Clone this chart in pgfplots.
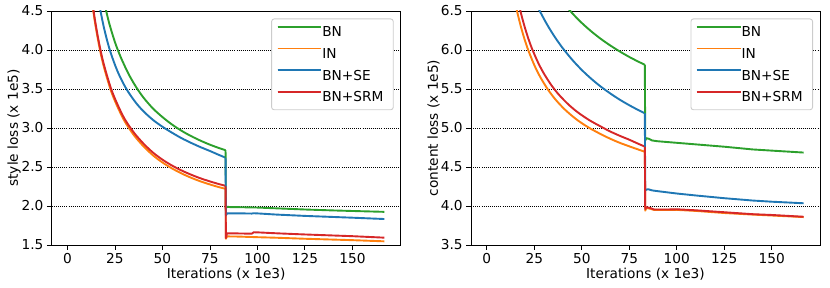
\documentclass[border=0pt]{standalone}
\usepackage{fontspec}
\setmainfont{DejaVu Sans}
\usepackage{pgfplots}
\pgfplotsset{compat=1.18}
\definecolor{cgreen}{HTML}{2CA02C}
\definecolor{corange}{HTML}{FF7F0E}
\definecolor{cblue}{HTML}{1F77B4}
\definecolor{cred}{HTML}{D62728}
\pgfplotsset{
 myaxis/.style={
  scale only axis, width=349pt, height=234pt,
  xmin=-8.3, xmax=175.4,
  xtick={0,25,50,75,100,125,150},
  tick align=outside, major tick length=4.8pt,
  xtick pos=bottom, ytick pos=left,
  every tick/.style={black, line width=0.9pt},
  axis line style={line width=0.9pt},
  ymajorgrids, major grid style={black, line width=0.8pt, dash pattern=on 0.8pt off 1.3pt},
  font=\fontsize{13.7pt}{16pt}\selectfont,
  /pgf/number format/assume math mode=true,
  yticklabel style={/pgf/number format/fixed, /pgf/number format/fixed zerofill, /pgf/number format/precision=1},
  every axis x label/.style={at={(axis description cs:0.5,0)}, yshift=-33.3pt, anchor=base},
  every axis y label/.style={at={(axis description cs:0,0.5)}, xshift=-37.5pt, rotate=90, anchor=center},
  legend style={at={(axis description cs:1,1)}, anchor=north east, xshift=-7pt, yshift=-7.5pt,
    draw=black!20, rounded corners=2.5pt, line width=0.9pt, fill=white,
    inner xsep=5pt, inner ysep=2pt, row sep=0pt, column sep=0pt,
    nodes={inner sep=0pt, text height=15.85pt, text depth=5.85pt, text width=66pt}},
  legend cell align=left,
  legend image code/.code={\draw[##1] (0pt,5pt) -- (32pt,5pt); \path (0pt,5pt) -- (43.7pt,5pt);},
  every axis plot/.append style={line width=1.9pt, line join=round},
 }
}
\begin{document}
\begin{tikzpicture}
\useasboundingbox (-51.7pt,-43pt) rectangle (778.3pt,245pt);
\begin{axis}[myaxis, at={(0pt,0pt)}, anchor=south west,
  ymin=1.5, ymax=4.5, ytick={1.5,2,2.5,3,3.5,4,4.5},
  xlabel={Iterations (x 1e3)}, ylabel={style loss (x 1e5)}]
% BN
\addplot[cgreen, smooth] coordinates {(16,5.04) (18,4.76) (20,4.54) (22,4.34) (25,4.10) (28,3.91) (32,3.70) (36,3.53) (40,3.39) (45,3.25) (50,3.14) (55,3.045) (60,2.965) (65,2.897) (70,2.838) (75,2.786) (80,2.741) (83.2,2.715)};
\addlegendentry{BN}
% IN
\addplot[corange, smooth] coordinates {(10,5.29) (12,4.80) (14,4.43) (16,4.14) (18,3.90) (20,3.71) (23,3.47) (26,3.29) (30,3.09) (35,2.907) (40,2.766) (45,2.65) (50,2.558) (55,2.482) (60,2.418) (65,2.363) (70,2.316) (75,2.276) (80,2.24) (83.2,2.22)};
\addlegendentry{IN}
% BN+SE
\addplot[cblue, smooth] coordinates {(13,5.27) (15,4.864) (17,4.553) (19,4.308) (21,4.11) (23,3.946) (26,3.747) (29,3.59) (32,3.462) (36,3.324) (40,3.214) (45,3.104) (50,3.016) (55,2.94) (60,2.87) (65,2.81) (70,2.755) (75,2.705) (80,2.652) (83.2,2.62)};
\addlegendentry{BN+SE}
% BN+SRM
\addplot[cred, smooth] coordinates {(10,5.32) (12,4.83) (14,4.46) (16,4.17) (18,3.93) (20,3.74) (23,3.50) (26,3.32) (30,3.12) (35,2.94) (40,2.80) (45,2.685) (50,2.594) (55,2.519) (60,2.456) (65,2.402) (70,2.355) (75,2.315) (80,2.279) (83.2,2.259)};
\addlegendentry{BN+SRM}
% after the drop
\addplot[cgreen, forget plot] coordinates {(83.2,2.715) (83.4,1.97) (84,1.99) (86,1.985) (90,1.985) (100,1.98) (110,1.97) (125,1.955) (140,1.943) (150,1.936) (166.8,1.925)};
\addplot[corange, forget plot] coordinates {(83.2,2.22) (83.4,1.58) (84,1.61) (90,1.608) (100,1.60) (110,1.593) (125,1.58) (150,1.562) (166.8,1.547)};
\addplot[cblue, forget plot] coordinates {(83.2,2.62) (83.4,1.88) (84,1.905) (90,1.906) (97,1.903) (98,1.907) (100,1.905) (110,1.89) (125,1.873) (150,1.85) (166.8,1.833)};
\addplot[cred, forget plot] coordinates {(83.2,2.259) (83.4,1.59) (84,1.65) (90,1.648) (97,1.645) (98,1.663) (100,1.662) (110,1.65) (125,1.635) (150,1.613) (166.8,1.594)};
\end{axis}
\begin{axis}[myaxis, at={(419.3pt,0pt)}, anchor=south west,
  ymin=3.5, ymax=6.5, ytick={3.5,4,4.5,5,5.5,6,6.5},
  xlabel={Iterations (x 1e3)}, ylabel={content loss (x 1e5)}]
\addplot[cgreen, smooth] coordinates {(35,6.775) (40,6.612) (45,6.471) (50,6.347) (55,6.239) (60,6.143) (65,6.058) (70,5.981) (75,5.911) (80,5.848) (83.2,5.811)};
\addlegendentry{BN}
\addplot[corange, smooth] coordinates {(10,7.37) (12,7.01) (14,6.727) (16,6.491) (18,6.295) (20,6.129) (22,5.987) (25,5.808) (28,5.66) (32,5.50) (36,5.37) (41,5.239) (47,5.114) (53,5.015) (59,4.934) (65,4.862) (70,4.81) (75,4.765) (80,4.722) (83.2,4.695)};
\addlegendentry{IN}
\addplot[cblue, smooth] coordinates {(20,6.95) (24,6.70) (28,6.495) (32,6.316) (36,6.16) (40,6.023) (45,5.874) (50,5.744) (55,5.631) (60,5.531) (65,5.443) (70,5.363) (75,5.292) (80,5.227) (83.2,5.189)};
\addlegendentry{BN+SE}
\addplot[cred, smooth] coordinates {(12,7.26) (14,6.945) (16,6.685) (18,6.471) (20,6.292) (22,6.138) (24,6.006) (27,5.839) (30,5.701) (34,5.549) (38,5.426) (43,5.301) (48,5.199) (54,5.10) (60,5.019) (65,4.955) (70,4.90) (75,4.85) (80,4.795) (83.2,4.762)};
\addlegendentry{BN+SRM}
\addplot[cgreen, forget plot] coordinates {(83.2,5.811) (83.4,4.84) (84,4.87) (85.5,4.86) (87,4.84) (90,4.83) (100,4.81) (110,4.79) (125,4.76) (140,4.725) (150,4.71) (166.8,4.685)};
\addplot[corange, forget plot] coordinates {(83.2,4.695) (83.4,3.94) (84,3.975) (86,3.965) (88,3.95) (100,3.95) (110,3.937) (125,3.91) (140,3.89) (150,3.878) (166.8,3.858)};
\addplot[cblue, forget plot] coordinates {(83.2,5.189) (83.4,4.2) (84,4.21) (85,4.215) (87,4.2) (90,4.19) (100,4.16) (110,4.135) (125,4.10) (140,4.07) (150,4.055) (166.8,4.035)};
\addplot[cred, forget plot] coordinates {(83.2,4.762) (83.4,3.96) (84,3.985) (86,3.975) (88,3.955) (95,3.955) (100,3.958) (110,3.945) (125,3.92) (140,3.895) (150,3.885) (166.8,3.862)};
\end{axis}
\end{tikzpicture}
\end{document}
